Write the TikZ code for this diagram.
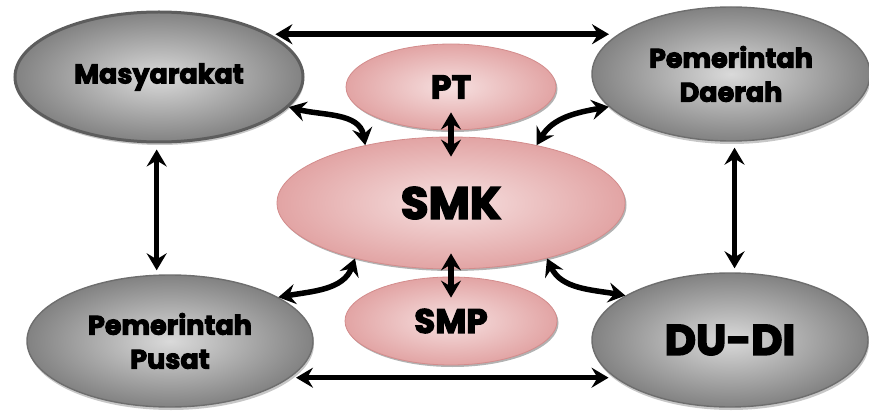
\documentclass[tikz,border=0pt]{standalone}
\usepackage{fontspec}
\setmainfont{Poppins}[BoldFeatures={FakeBold=3.5}]
\usetikzlibrary{shapes.geometric,arrows.meta,shadows}
\definecolor{grayin}{HTML}{DADADA}
\definecolor{grayout}{HTML}{828282}
\definecolor{grayline}{HTML}{6E6E6E}
\definecolor{pinkin}{HTML}{F6E0E0}
\definecolor{pinkout}{HTML}{E2A4A4}
\definecolor{pinkline}{HTML}{D38C8C}
\tikzset{
  bigtip/.tip={Stealth[length=17pt,width=20pt,inset=6pt]},
}
\begin{document}
\begin{tikzpicture}[x=1pt,y=1pt,
  graynode/.style={ellipse, draw=grayline, line width=1.4pt, inner color=grayin, outer color=grayout,
    align=center, inner sep=0pt,
    drop shadow={shadow xshift=1pt, shadow yshift=-3pt, fill=black, opacity=0.22}},
  pinknode/.style={ellipse, draw=pinkline, line width=0.8pt, inner color=pinkin, outer color=pinkout,
    align=center, inner sep=0pt,
    drop shadow={shadow xshift=1.5pt, shadow yshift=-2pt, fill=black, opacity=0.3}},
  lbl/.style={font=\fontsize{#1}{34}\selectfont\bfseries},
  arr/.style={bigtip-bigtip, line width=5.5pt, draw=black}
]
\useasboundingbox (0,0) rectangle (869,410);

% outer nodes
\node[graynode, line width=3pt, draw=grayline!85!black, minimum width=288pt, minimum height=130pt, lbl=27] (mas) at (159,333) {Masyarakat};
\node[graynode, minimum width=278pt, minimum height=134pt, lbl=27] (dae) at (731,336) {Pemerintah\\Daerah};
\node[graynode, minimum width=286pt, minimum height=132pt, lbl=27] (pus) at (170,69) {Pemerintah\\Pusat};
\node[graynode, minimum width=276pt, minimum height=134pt, lbl=43] (dud) at (730,70) {DU-DI};

% centre nodes
\node[pinknode, minimum width=210pt, minimum height=86pt, lbl=33] (pt) at (451,323) {PT};
\node[pinknode, minimum width=348pt, minimum height=132pt, lbl=45] (smk) at (451,207) {SMK};
\node[pinknode, minimum width=212pt, minimum height=88pt, lbl=34] (smp) at (451,89) {SMP};

% straight connectors
\draw[arr, shorten <=5pt, shorten >=6pt] (mas.21) -- (mas.21 -| dae.162);
\draw[arr, shorten <=6pt, shorten >=6pt] (pus.-17) -- (pus.-17 -| dud.198);
\draw[arr, shorten <=6pt, shorten >=4pt] (mas.268) -- (mas.268 |- pus.north);
\draw[arr, shorten <=6pt, shorten >=4pt] (dae.273) -- (dae.273 |- dud.north);
\draw[arr, shorten <=-18pt, shorten >=-20pt] (pt.south) -- (smk.north);
\draw[arr, shorten <=-16pt, shorten >=-21pt] (smk.south) -- (smp.north);

% curved connectors
\draw[arr] (mas.-13) to[out=-15,in=100] (smk.146);
\draw[arr] (dae.195) to[out=190,in=60] (smk.34);
\draw[arr] (pus.22) to[out=10,in=-110] (smk.210);
\draw[arr] (dud.157) to[out=170,in=-65] (smk.-30);
\end{tikzpicture}
\end{document}
